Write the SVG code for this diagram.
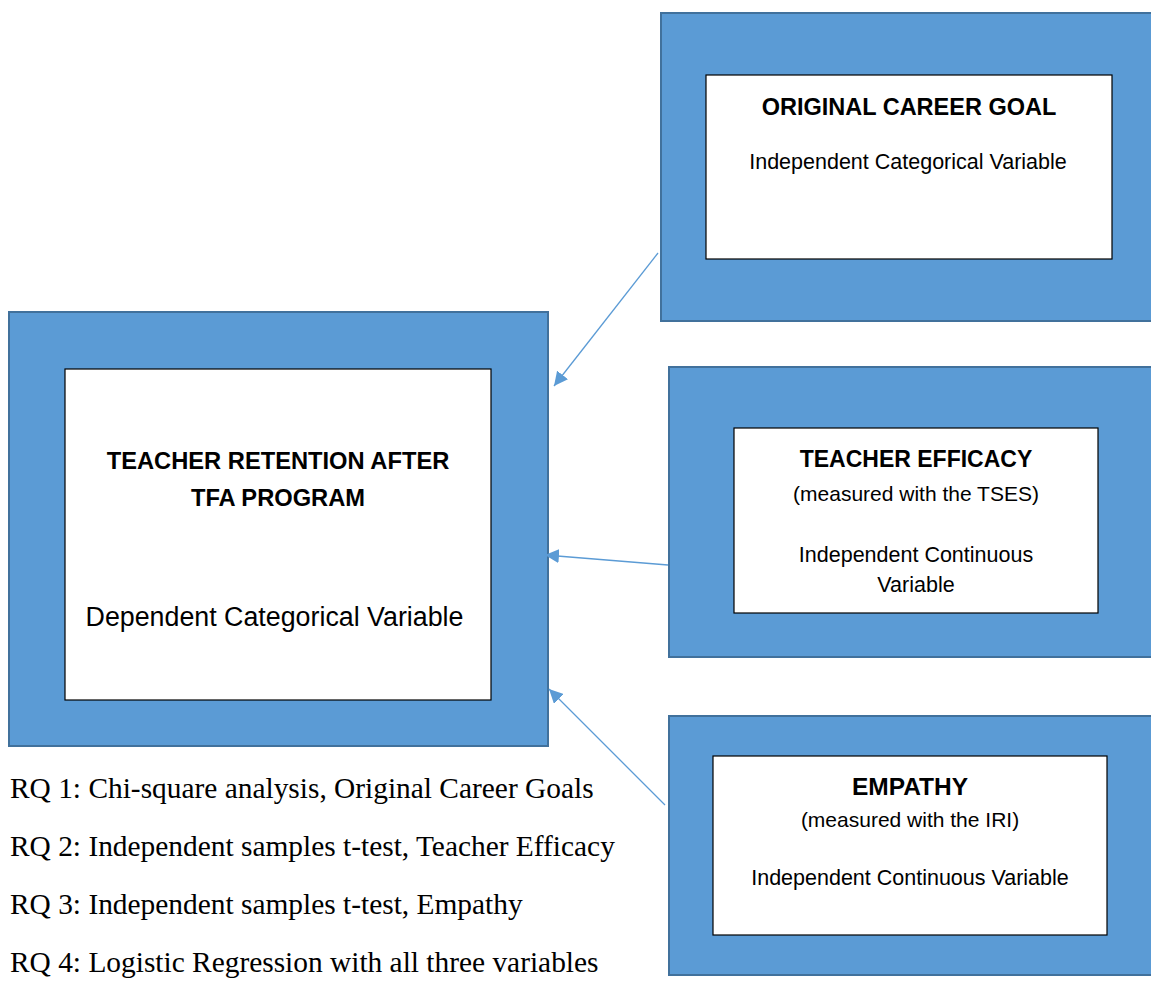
<svg xmlns="http://www.w3.org/2000/svg" width="1151" height="991" viewBox="0 0 1151 991">
<style>
.outer{fill:#5B9BD5;stroke:#41719C;stroke-width:2}
.inner{fill:#FFFFFF;stroke:#000000;stroke-width:1.2}
.t{font-family:"Liberation Sans",Arial,sans-serif;fill:#000;text-anchor:middle}
.b{font-weight:bold}
.rq{font-family:"Liberation Serif","Times New Roman",serif;font-size:29.4px;fill:#000}
.conn{stroke:#5B9BD5;stroke-width:1.3;fill:none;marker-end:url(#ah)}
</style>
<defs>
<marker id="ah" viewBox="0 0 10 10" refX="10" refY="5" markerWidth="14" markerHeight="14" markerUnits="userSpaceOnUse" orient="auto">
<path d="M0,0 L10,5 L0,10 z" fill="#5B9BD5"/>
</marker>
</defs>
<rect width="1151" height="991" fill="#FFFFFF"/>
<g id="node-retention">
<rect class="outer" x="9" y="312" width="539" height="434"/>
<rect class="inner" x="65" y="369" width="426" height="331"/>
<text class="t b" x="278" y="469" font-size="23.7">TEACHER RETENTION AFTER</text>
<text class="t b" x="278" y="506" font-size="23.7">TFA PROGRAM</text>
<text class="t" x="274.5" y="626" font-size="26.8">Dependent Categorical Variable</text>
</g>
<g id="node-career">
<rect class="outer" x="661" y="13" width="500" height="308"/>
<rect class="inner" x="706" y="75" width="406" height="184"/>
<text class="t b" x="909" y="115" font-size="23.5">ORIGINAL CAREER GOAL</text>
<text class="t" x="908" y="169" font-size="21.5">Independent Categorical Variable</text>
</g>
<g id="node-efficacy">
<rect class="outer" x="669" y="367" width="492" height="290"/>
<rect class="inner" x="734" y="428" width="364" height="185"/>
<text class="t b" x="916" y="467" font-size="23">TEACHER EFFICACY</text>
<text class="t" x="916" y="501" font-size="21">(measured with the TSES)</text>
<text class="t" x="916" y="562" font-size="21.5">Independent Continuous</text>
<text class="t" x="916" y="592" font-size="21.5">Variable</text>
</g>
<g id="node-empathy">
<rect class="outer" x="669" y="716" width="492" height="259"/>
<rect class="inner" x="713" y="756" width="394" height="179"/>
<text class="t b" x="910" y="795" font-size="24.5">EMPATHY</text>
<text class="t" x="910" y="827" font-size="21">(measured with the IRI)</text>
<text class="t" x="910" y="885" font-size="21.5">Independent Continuous Variable</text>
</g>
<g id="connectors">
<line class="conn" x1="658" y1="253" x2="554" y2="386"/>
<line class="conn" x1="668" y1="565" x2="545" y2="555"/>
<line class="conn" x1="665" y1="805" x2="549" y2="689"/>
</g>
<g id="rq-notes">
<text class="rq" x="10" y="798">RQ 1: Chi-square analysis, Original Career Goals</text>
<text class="rq" x="10" y="856">RQ 2: Independent samples t-test, Teacher Efficacy</text>
<text class="rq" x="10" y="914">RQ 3: Independent samples t-test, Empathy</text>
<text class="rq" x="10" y="972">RQ 4: Logistic Regression with all three variables</text>
</g>
</svg>
